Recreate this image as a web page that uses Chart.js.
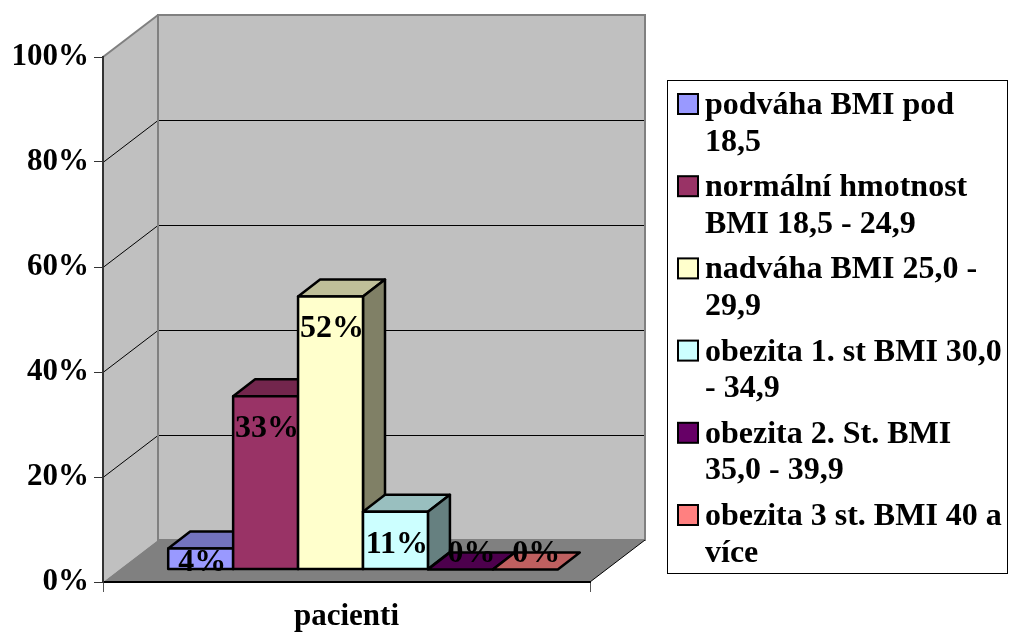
<!DOCTYPE html>
<html>
<head>
<meta charset="utf-8">
<script src="https://cdn.jsdelivr.net/npm/chart.js@4.4.1/dist/chart.umd.min.js"></script>
<style>
  html, body { margin: 0; padding: 0; background: #fff; }
  #wrap { width: 1009px; height: 636px; position: relative; }
</style>
</head>
<body>
<div id="wrap"><canvas id="c"></canvas></div>
<script>
// BMI groups of the patients (share in %)
const categories = ['pacienti'];
const seriesNames = [
  ['podváha BMI pod', '18,5'],
  ['normální hmotnost', 'BMI 18,5 - 24,9'],
  ['nadváha BMI 25,0 -', '29,9'],
  ['obezita 1. st BMI 30,0', '- 34,9'],
  ['obezita 2. St. BMI', '35,0 - 39,9'],
  ['obezita 3 st. BMI 40 a', 'více']
];
const seriesValues = [4, 33, 52, 11, 0, 0];
const seriesColors = ['#9999FF', '#993366', '#FFFFCC', '#CCFFFF', '#660066', '#FF8080'];
const yTicks = [0, 20, 40, 60, 80, 100];

const FONT = '"Liberation Serif", "Times New Roman", serif';
// perspective offset of the back wall relative to the front plane
const DX = 55, DY = -42;
const BAR_FRONT = 0.3, BAR_DEPTH = 0.4;

function shade(hex, f) {
  const n = parseInt(hex.slice(1), 16);
  const r = Math.round(((n >> 16) & 255) * f);
  const g = Math.round(((n >> 8) & 255) * f);
  const b = Math.round((n & 255) * f);
  return `rgb(${r},${g},${b})`;
}

function poly(ctx, pts, fill, stroke, lw) {
  ctx.beginPath();
  ctx.moveTo(pts[0][0], pts[0][1]);
  for (let i = 1; i < pts.length; i++) ctx.lineTo(pts[i][0], pts[i][1]);
  ctx.closePath();
  if (fill) { ctx.fillStyle = fill; ctx.fill(); }
  if (stroke) { ctx.strokeStyle = stroke; ctx.lineWidth = lw; ctx.stroke(); }
}

function line(ctx, x1, y1, x2, y2, color, lw) {
  ctx.beginPath();
  ctx.moveTo(x1, y1);
  ctx.lineTo(x2, y2);
  ctx.strokeStyle = color;
  ctx.lineWidth = lw;
  ctx.stroke();
}

// walls, floor and gridlines of the 3D box
const wallsPlugin = {
  id: 'walls',
  beforeDraw(chart) {
    const ctx = chart.ctx;
    const { left: L, right: R, top: T, bottom: B } = chart.chartArea;
    ctx.save();
    ctx.fillStyle = '#fff';
    ctx.fillRect(0, 0, chart.width, chart.height);
    poly(ctx, [[L, T], [L + DX, T + DY], [L + DX, B + DY], [L, B]], '#C0C0C0');
    poly(ctx, [[L + DX, T + DY], [R + DX, T + DY], [R + DX, B + DY], [L + DX, B + DY]], '#C0C0C0');
    poly(ctx, [[L, B], [R, B], [R + DX, B + DY], [L + DX, B + DY]], '#808080');
    const ys = chart.scales.y;
    ys.ticks.forEach(t => {
      if (t.value <= ys.min || t.value >= ys.max) return;
      const p = Math.round(ys.getPixelForValue(t.value)) + 0.5;
      line(ctx, L, p, L + DX, p + DY, '#000', 1);
      line(ctx, L + DX, p + DY, R + DX, p + DY, '#000', 1);
    });
    ctx.lineJoin = 'miter';
    poly(ctx, [[L + DX, T + DY], [R + DX, T + DY], [R + DX, B + DY], [L + DX, B + DY]], null, '#808080', 2);
    line(ctx, L, T, L + DX, T + DY, '#808080', 2);
    line(ctx, R, B, R + DX, B + DY, '#000', 1);
    ctx.restore();
  }
};

// bars drawn as boxes standing in the middle of the floor
const barsPlugin = {
  id: 'bars3d',
  beforeDatasetsDraw(chart) {
    const ctx = chart.ctx;
    const fx = DX * BAR_FRONT, fy = DY * BAR_FRONT;
    const bx = DX * BAR_DEPTH, by = DY * BAR_DEPTH;
    ctx.save();
    ctx.lineJoin = 'round';
    const boxes = [];
    chart.data.datasets.forEach((ds, i) => {
      const el = chart.getDatasetMeta(i).data[0];
      const { x, y, base, width } = el.getProps(['x', 'y', 'base', 'width'], true);
      const l = x - width / 2 + fx, r = x + width / 2 + fx;
      const t = y + fy, b = base + fy;
      const c = ds.backgroundColor;
      poly(ctx, [[l, t], [r, t], [r + bx, t + by], [l + bx, t + by]], shade(c, 0.75), '#000', 2.5);
      if (b - t > 0.5) {
        poly(ctx, [[r, t], [r + bx, t + by], [r + bx, b + by], [r, b]], shade(c, 0.5), '#000', 2.5);
        poly(ctx, [[l, t], [r, t], [r, b], [l, b]], c, '#000', 2.5);
      }
      boxes.push({ l, r, t, b, v: ds.data[0] });
    });
    // value labels
    ctx.fillStyle = '#000';
    ctx.font = `bold 32px ${FONT}`;
    ctx.textAlign = 'center';
    ctx.textBaseline = 'alphabetic';
    boxes.forEach(bx0 => {
      const h = bx0.b - bx0.t;
      const inset = Math.min(41, 1.43 * h - 7);
      const cx = (bx0.l + bx0.r) / 2 + (h < 0.5 ? bx / 2 : 1.5);
      ctx.fillText(bx0.v + '%', cx, bx0.t + inset);
    });
    ctx.restore();
    return false;
  }
};

// boxed legend with wrapped entries on the right
const legendPlugin = {
  id: 'sideLegend',
  afterDraw(chart) {
    const ctx = chart.ctx;
    ctx.save();
    ctx.strokeStyle = '#000';
    ctx.lineWidth = 1;
    ctx.strokeRect(667.5, 80.5, 340, 493);
    ctx.font = `bold 32px ${FONT}`;
    ctx.textAlign = 'left';
    ctx.textBaseline = 'alphabetic';
    chart.data.datasets.forEach((ds, i) => {
      const base = 114 + i * 82.2;
      ctx.fillStyle = ds.backgroundColor;
      ctx.fillRect(678, base - 20, 20, 20);
      ctx.strokeStyle = '#000';
      ctx.lineWidth = 2;
      ctx.strokeRect(678, base - 20, 20, 20);
      ctx.fillStyle = '#000';
      seriesNames[i].forEach((txt, k) => ctx.fillText(txt, 705, base + k * 36.5));
    });
    ctx.restore();
  }
};

new Chart(document.getElementById('c'), {
  type: 'bar',
  data: {
    labels: categories,
    datasets: seriesValues.map((v, i) => ({
      label: seriesNames[i].join(' '),
      data: [v],
      backgroundColor: seriesColors[i]
    }))
  },
  options: {
    responsive: true,
    maintainAspectRatio: false,
    animation: false,
    categoryPercentage: 0.8,
    barPercentage: 1.0,
    layout: { padding: { top: 57, right: 419, left: 0, bottom: 0 } },
    plugins: { legend: { display: false }, tooltip: { enabled: false } },
    scales: {
      x: {
        grid: { display: true, drawOnChartArea: false, drawTicks: true, tickLength: 10, color: '#555', lineWidth: 1 },
        border: { display: true, color: '#000', width: 2 },
        ticks: { color: '#000', font: { family: FONT, size: 31, weight: 'bold' }, padding: 6, maxRotation: 0 },
        afterFit(s) { s.height = 54; }
      },
      y: {
        min: 0,
        max: 100,
        afterBuildTicks(s) { s.ticks = yTicks.map(v => ({ value: v })); },
        grid: { display: true, drawOnChartArea: false, drawTicks: true, tickLength: 9, color: '#333', lineWidth: 1 },
        border: { display: true, color: '#333', width: 2 },
        ticks: {
          color: '#000',
          font: { family: FONT, size: 31, weight: 'bold' },
          padding: 5,
          callback: v => v + '%'
        },
        afterFit(s) { s.width = 103; }
      }
    }
  },
  plugins: [wallsPlugin, barsPlugin, legendPlugin]
});
</script>
</body>
</html>
